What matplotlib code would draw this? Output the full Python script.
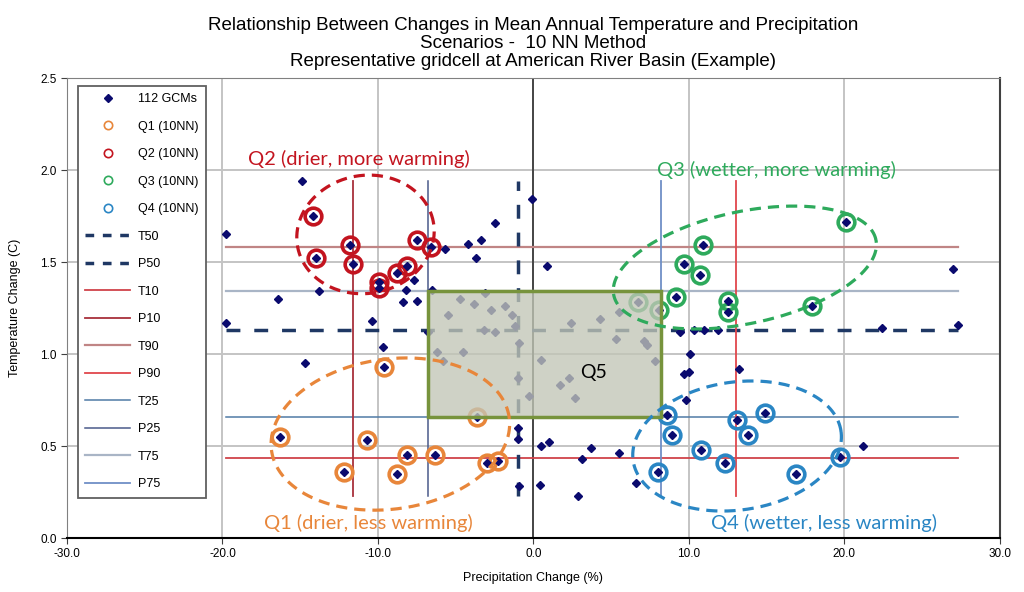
import numpy as np
import matplotlib
matplotlib.use("Agg")
import matplotlib.pyplot as plt
from matplotlib.lines import Line2D
from matplotlib.patches import Rectangle
from matplotlib import font_manager

# fonts
names = {f.name for f in font_manager.fontManager.ttflist}
NARROW = "Liberation Sans Narrow" if "Liberation Sans Narrow" in names else "Liberation Sans"
plt.rcParams["font.family"] = [NARROW, "DejaVu Sans"]

# GCMs that are not in one of the 10NN groups
other_p = [-14.9, -19.8, -13.8, -16.4, -19.8, -10.4, -9.7, -8.2, -8.4, -7.7,
           -7.5, -6.5, -5.7, -4.2, -3.4, -3.7, -2.5, -0.1, 0.9, -3.1,
           -4.7, -3.8, -2.7, -1.8, -5.5, -1.4, -1.2, -3.2, -2.5, 2.4,
           -6.8, -0.9, -6.2, -4.5, -5.8, -1.0, -0.3, 0.5, 4.3, 5.5,
           5.3, 7.1, 7.3, 7.8, 1.7, 2.3, 2.7, -1.0, -1.0, -0.9,
           0.5, 1.0, 0.4, 2.9, 3.1, 3.7, 5.5, 6.6, 27.0, 27.3,
           22.4, 9.4, 11.0, 10.1, 9.7, 10.0, 13.2, 9.8, 21.2, 10.3,
           -14.7, 11.9]
other_t = [1.94, 1.65, 1.34, 1.30, 1.17, 1.18, 1.04, 1.35, 1.28, 1.40,
           1.29, 1.35, 1.57, 1.60, 1.62, 1.52, 1.71, 1.84, 1.48, 1.33,
           1.30, 1.27, 1.24, 1.26, 1.21, 1.21, 1.15, 1.13, 1.12, 1.17,
           1.12, 1.06, 1.01, 1.01, 0.96, 0.87, 0.77, 0.97, 1.19, 1.23,
           1.08, 1.07, 1.05, 0.96, 0.83, 0.87, 0.76, 0.60, 0.54, 0.28,
           0.50, 0.52, 0.29, 0.23, 0.43, 0.49, 0.46, 0.30, 1.46, 1.16,
           1.14, 1.12, 1.13, 1.00, 0.89, 0.90, 0.92, 0.75, 0.50, 1.13,
           0.95, 1.13]

# 10 nearest neighbours per quadrant
q1_p = [-16.3, -9.6, -10.7, -12.2, -8.8, -8.1, -6.3, -3.6, -3.0, -2.3]
q1_t = [0.55, 0.93, 0.53, 0.36, 0.35, 0.45, 0.45, 0.66, 0.41, 0.42]
q2_p = [-14.2, -14.0, -11.8, -11.6, -9.9, -9.9, -8.8, -8.1, -7.5, -6.6]
q2_t = [1.75, 1.52, 1.59, 1.49, 1.39, 1.36, 1.44, 1.48, 1.62, 1.58]
q3_p = [20.1, 10.9, 9.7, 10.7, 9.2, 12.5, 12.5, 17.9, 6.7, 8.1]
q3_t = [1.72, 1.59, 1.49, 1.43, 1.31, 1.29, 1.23, 1.26, 1.28, 1.24]
q4_p = [8.6, 8.9, 8.0, 10.8, 13.1, 14.9, 13.8, 12.3, 16.9, 19.7]
q4_t = [0.67, 0.56, 0.36, 0.48, 0.64, 0.68, 0.56, 0.41, 0.35, 0.44]

# percentiles
t_lines = {"T50": 1.13, "T10": 0.435, "T90": 1.58, "T25": 0.66, "T75": 1.345}
p_lines = {"P50": -1.0, "P10": -11.6, "P90": 13.0, "P25": -6.8, "P75": 8.2}

gcm_p = np.array(other_p + q1_p + q2_p + q3_p + q4_p)
gcm_t = np.array(other_t + q1_t + q2_t + q3_t + q4_t)

NAVY = "#0a0a6e"
line_style = {
    "T50": dict(color="#1f3864", lw=2.5, ls=(0, (4, 4))),
    "P50": dict(color="#1f3864", lw=2.5, ls=(0, (4, 4))),
    "T10": dict(color="#d0434a", lw=1.3, ls="-"),
    "P10": dict(color="#a8303c", lw=1.3, ls="-"),
    "T90": dict(color="#c08585", lw=1.6, ls="-"),
    "P90": dict(color="#e0474c", lw=1.3, ls="-"),
    "T25": dict(color="#4f7aa6", lw=1.1, ls="-"),
    "P25": dict(color="#4a5a8a", lw=1.1, ls="-"),
    "T75": dict(color="#a9b5c6", lw=1.6, ls="-"),
    "P75": dict(color="#6f8fc6", lw=1.3, ls="-"),
}
q_colors = {"Q1": "#e8863a", "Q2": "#c3141f", "Q3": "#2eaa5c", "Q4": "#2a86c4"}

fig = plt.figure(figsize=(10.24, 5.92), dpi=100)
ax = fig.add_axes([0.0654, 0.0912, 0.911, 0.777])
ax.set_xlim(-30, 30)
ax.set_ylim(0, 2.5)
ax.set_xticks(np.arange(-30, 31, 10))
ax.set_yticks(np.arange(0, 2.51, 0.5))
ax.set_xticklabels([f"{v:.1f}" for v in np.arange(-30, 31, 10)], fontsize=8.5)
ax.set_yticklabels([f"{v:.1f}" for v in np.arange(0, 2.51, 0.5)], fontsize=8.5)
ax.grid(True, color="#c4c4c4", lw=1.4, zorder=0)
ax.set_axisbelow(True)
for s in ax.spines.values():
    s.set_color("#808080")
ax.spines["bottom"].set_color("black")
ax.spines["bottom"].set_linewidth(1.5)
ax.spines["right"].set_color("#404040")
ax.spines["right"].set_linewidth(1.5)
ax.axvline(0, color="#303030", lw=1.2, zorder=1)
ax.tick_params(length=4, color="#404040")

# percentile lines span the range of the GCM cloud
pmin, pmax = gcm_p.min(), gcm_p.max()
tmin, tmax = gcm_t.min(), gcm_t.max()
for k, v in t_lines.items():
    ax.plot([pmin, pmax], [v, v], zorder=2, **line_style[k])
for k, v in p_lines.items():
    ax.plot([v, v], [tmin, tmax], zorder=2, **line_style[k])

for q, (pp, tt) in {"Q1": (q1_p, q1_t), "Q2": (q2_p, q2_t),
                     "Q3": (q3_p, q3_t), "Q4": (q4_p, q4_t)}.items():
    ax.plot(pp, tt, "o", ms=12, mfc="none", mec=q_colors[q], mew=2.6, zorder=3)
ax.plot(gcm_p, gcm_t, "D", ms=4.2, color=NAVY, zorder=4)

# Q5 box between the 25th and 75th percentiles
ax.add_patch(Rectangle((p_lines["P25"], t_lines["T25"]),
                       p_lines["P75"] - p_lines["P25"], t_lines["T75"] - t_lines["T25"],
                       facecolor="#c2c6b6", alpha=0.78, edgecolor="none", zorder=5))
ax.add_patch(Rectangle((p_lines["P25"], t_lines["T25"]),
                       p_lines["P75"] - p_lines["P25"], t_lines["T75"] - t_lines["T25"],
                       facecolor="none", edgecolor="#77933c", lw=2.5, zorder=6))
ax.text(3.9, 0.9, "Q5", fontsize=14, family=["Lato", "DejaVu Sans"],
        ha="center", va="center", zorder=7)

# ellipses drawn in pixel proportions
ppx = 933 / 60.0
tpx = 460 / 2.5


def ellipse(cx, cy, w, h, ang):
    th = np.linspace(0, 2 * np.pi, 300)
    u, v = w / 2 * np.cos(th), h / 2 * np.sin(th)
    a = np.deg2rad(ang)
    return cx + (u * np.cos(a) - v * np.sin(a)) / ppx, cy + (u * np.sin(a) + v * np.cos(a)) / tpx


for q, (cx, cy, w, h, ang) in {"Q1": (-9.2, 0.565, 240, 150, 8),
                                "Q2": (-10.8, 1.65, 138, 118, 10),
                                "Q3": (13.6, 1.47, 268, 112, 12),
                                "Q4": (13.1, 0.50, 210, 128, 8)}.items():
    ex, ey = ellipse(cx, cy, w, h, ang)
    ax.plot(ex, ey, color=q_colors[q], lw=2.3, ls=(0, (3.5, 2.2)), zorder=7)

lab_font = ["Lato", "DejaVu Sans"]
ax.text(-11.2, 2.06, "Q2 (drier, more warming)", color=q_colors["Q2"], fontsize=14.5,
        family=lab_font, ha="center", va="center", zorder=8)
ax.text(15.6, 2.0, "Q3 (wetter, more warming)", color=q_colors["Q3"], fontsize=14.5,
        family=lab_font, ha="center", va="center", zorder=8)
ax.text(-10.6, 0.08, "Q1 (drier, less warming)", color=q_colors["Q1"], fontsize=14.5,
        family=lab_font, ha="center", va="center", zorder=8)
ax.text(18.7, 0.08, "Q4 (wetter, less warming)", color=q_colors["Q4"], fontsize=14.5,
        family=lab_font, ha="center", va="center", zorder=8)

ax.set_xlabel("Precipitation Change (%)", fontsize=9, labelpad=8)
ax.set_ylabel("Temperature Change (C)", fontsize=9, labelpad=14)
ax.set_title("Relationship Between Changes in Mean Annual Temperature and Precipitation\n"
             "Scenarios -  10 NN Method\n"
             "Representative gridcell at American River Basin (Example)",
             fontsize=13.5, linespacing=1.05, pad=9)

handles = [Line2D([], [], ls="none", marker="D", ms=4, color=NAVY)]
for q in ["Q1", "Q2", "Q3", "Q4"]:
    handles.append(Line2D([], [], ls="none", marker="o", ms=6, mfc="none",
                          mec=q_colors[q], mew=1.2))
labels = ["112 GCMs", "Q1 (10NN)", "Q2 (10NN)", "Q3 (10NN)", "Q4 (10NN)"]
for k in ["T50", "P50", "T10", "P10", "T90", "P90", "T25", "P25", "T75", "P75"]:
    st = line_style[k]
    handles.append(Line2D([], [], color=st["color"], lw=st["lw"],
                          ls=(0, (2.5, 2.5)) if k in ("T50", "P50") else "-"))
    labels.append(k)
leg = ax.legend(handles, labels, loc="upper left", bbox_to_anchor=(0.005, 0.997),
                fontsize=9, labelspacing=1.24, handlelength=3.6, handletextpad=0.6,
                borderpad=0.6, fancybox=False, framealpha=1, edgecolor="#606060")
leg.set_zorder(10)
leg.get_frame().set_linewidth(1.3)

fig.savefig("out.png", dpi=100)
